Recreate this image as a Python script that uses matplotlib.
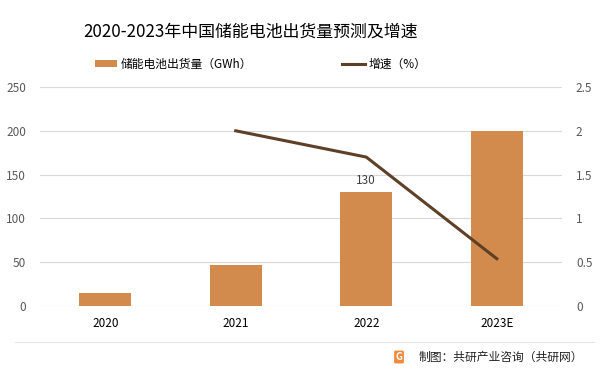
import matplotlib.pyplot as plt
import numpy as np

plt.rcParams['font.family'] = ['Noto Sans CJK SC', 'DejaVu Sans']

years = ['2020', '2021', '2022', '2023E']
shipments = [15, 47, 130, 200]
growth_years = ['2021', '2022', '2023E']
growth = [2.0, 1.7, 0.54]

bar_color = '#D38B4D'
line_color = '#5E4027'

fig = plt.figure(figsize=(6, 3.74), dpi=100)
ax = fig.add_axes([0.0667, 0.1818, 0.87, 0.5856])

x = np.arange(len(years))
ax.bar(x, shipments, width=0.4, color=bar_color, zorder=2, label='储能电池出货量（GWh）')
ax.set_ylim(0, 250)
ax.set_xlim(-0.5, len(years) - 0.5)
ax.set_yticks(np.arange(0, 251, 50))
ax.grid(axis='y', color='#D9D9D9', linewidth=0.8, zorder=0)
ax.set_axisbelow(True)
for s in ax.spines.values():
    s.set_visible(False)
ax.tick_params(axis='both', length=0)
ax.tick_params(axis='y', labelsize=8.5, labelcolor='#595959', pad=10)
ax.set_xticks(x)
ax.set_xticklabels(years, fontsize=8.5, color='#000000')
ax.tick_params(axis='x', pad=8)
ax.text(2, 130 + 6, '130', ha='center', va='bottom', fontsize=8.5, color='#404040')

ax2 = ax.twinx()
gx = [years.index(y) for y in growth_years]
ax2.plot(gx, growth, color=line_color, linewidth=2.2, label='增速（%）', zorder=3)
ax2.set_ylim(0, 2.5)
ax2.set_yticks([0, 0.5, 1, 1.5, 2, 2.5])
ax2.set_yticklabels(['0', '0.5', '1', '1.5', '2', '2.5'])
for s in ax2.spines.values():
    s.set_visible(False)
ax2.tick_params(axis='y', length=0, labelsize=8.5, labelcolor='#595959', pad=10)

fig.text(0.418, 0.915, '2020-2023年中国储能电池出货量预测及增速', ha='center', va='center',
         fontsize=12.2, color='#000000')

h1, l1 = ax.get_legend_handles_labels()
h2, l2 = ax2.get_legend_handles_labels()
fig.legend(h1 + h2, l1 + l2, loc='center', bbox_to_anchor=(0.434, 0.828), ncol=2,
           frameon=False, fontsize=8.5, columnspacing=7.6, handlelength=1.9,
           handletextpad=0.3, handleheight=0.5)

fig.add_artist(plt.Line2D([0.025, 0.99], [1 - 342 / 374, 1 - 342 / 374],
                          color='#E6E6E6', linewidth=0.8, transform=fig.transFigure))
fig.text(0.665, 1 - 357 / 374, 'G', ha='center', va='center', fontsize=7, color='white',
         fontweight='bold',
         bbox=dict(boxstyle='round,pad=0.15', facecolor='#F08A3C', edgecolor='none'))
fig.text(0.698, 1 - 357 / 374, '制图：共研产业咨询（共研网）', ha='left', va='center',
         fontsize=8.5, color='#222222')

fig.savefig('out.png', dpi=100)
